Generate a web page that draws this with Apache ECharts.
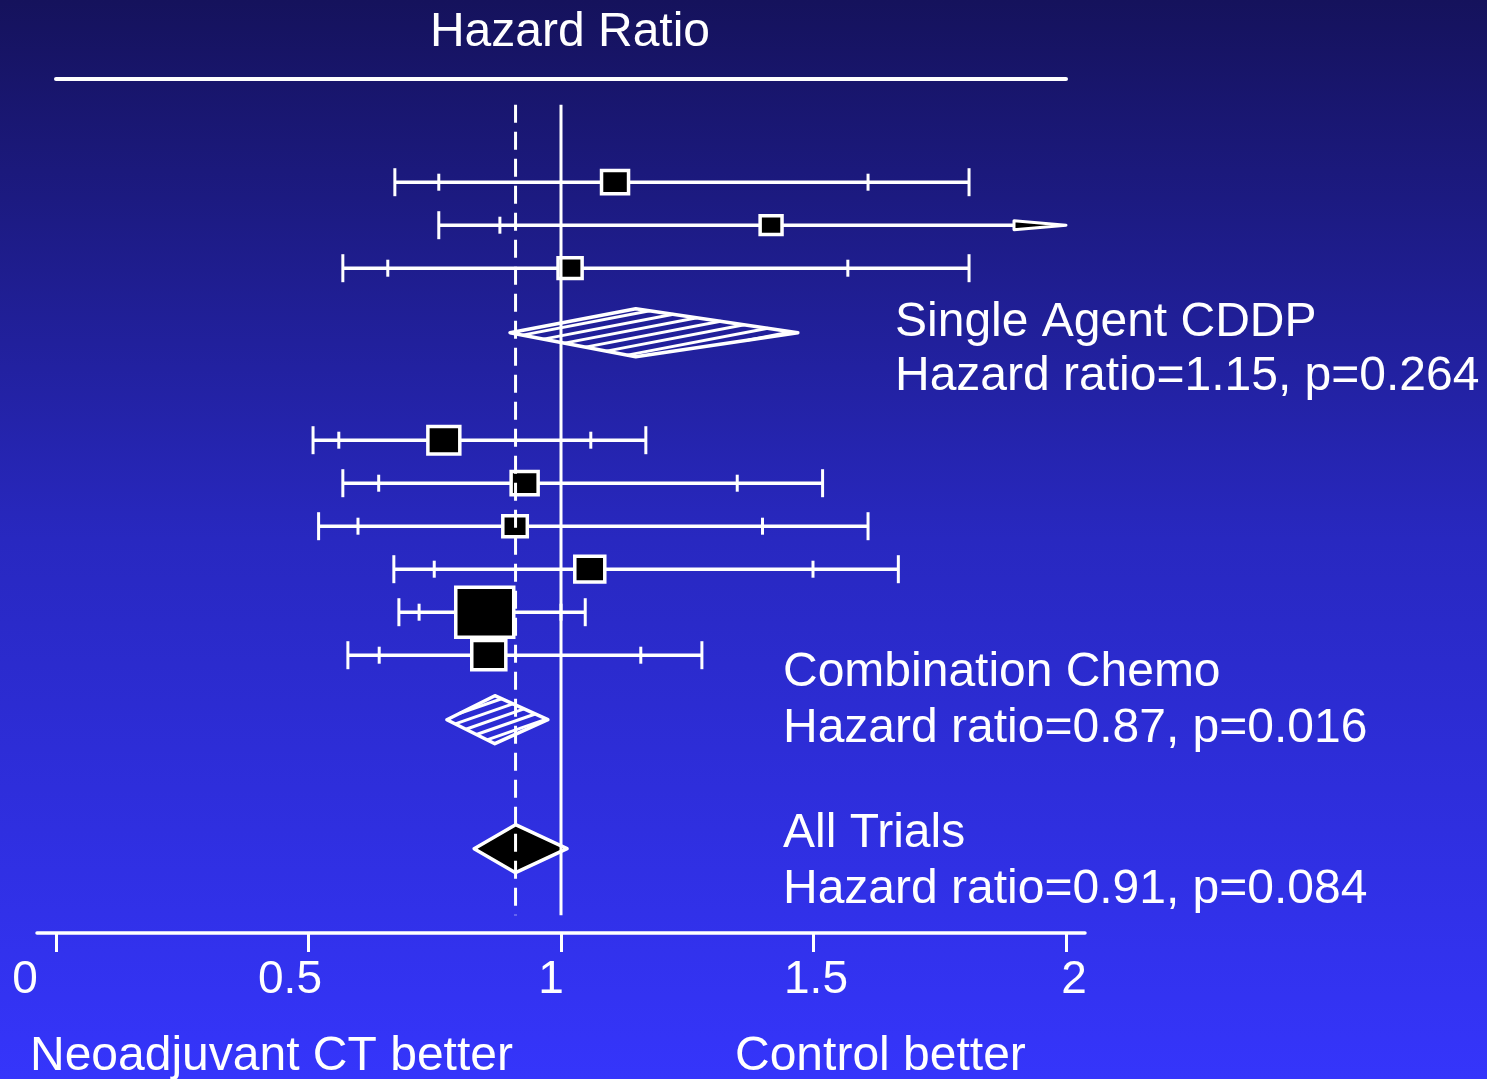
<!DOCTYPE html>
<html>
<head>
<meta charset="utf-8">
<title>Hazard Ratio</title>
<script src="https://cdn.jsdelivr.net/npm/echarts@6/dist/echarts.min.js"></script>
<style>
  html, body { margin: 0; padding: 0; background: #2424b4; }
  #chart { width: 1487px; height: 1079px; }
</style>
</head>
<body>
<div id="chart"></div>
<script>
// individual trials, top to bottom (row = vertical slot)
const trialRows = [3, 4, 5, 9, 10, 11, 12, 13, 14];
const trialHr = [1.107, 1.416, 1.018, 0.768, 0.928, 0.909, 1.057, 0.849, 0.857];
const trialLo95 = [0.758, 0.879, 0.657, 0.56, 0.639, 0.598, 0.749, 0.719, 0.64];
const trialHi95 = [1.608, 2.28, 1.568, 1.059, 1.349, 1.399, 1.499, 1.0, 1.158];
const trialLo99 = [0.671, 0.758, 0.568, 0.509, 0.568, 0.52, 0.669, 0.679, 0.578];
const trialHi99 = [1.808, 2.65, 1.808, 1.168, 1.518, 1.608, 1.668, 1.048, 1.279];
const trialWeight = [7.3, 4.8, 5.8, 10.2, 7.3, 6.0, 9.0, 33.6, 11.6];

// pooled estimates
const pooledRows = [6.5, 15.5, 18.5];
const pooledLo = [0.899, 0.774, 0.828];
const pooledHr = [1.148, 0.869, 0.91];
const pooledHi = [1.469, 0.974, 1.012];
const pooledKind = ["subgroup", "subgroup", "overall"];
const pooledNames = ["Single Agent CDDP", "Combination Chemo", "All Trials"];
const pooledStats = [
  "Hazard ratio=1.15, p=0.264",
  "Hazard ratio=0.87, p=0.016",
  "Hazard ratio=0.91, p=0.084"
];

const xTicks = [0, 0.5, 1, 1.5, 2];
const noEffect = 1;
const overallHr = 0.91;
const refSpan = [1.2, 20.05];

const X_MIN = 0;
const X_MAX = 2;
const FONT = '"Liberation Sans", Arial, sans-serif';
const WHITE = "#ffffff";
const ARROW_LEN = 52;

function hatchLines(pts, slope, gap) {
  const cs = pts.map(p => p[1] - slope * p[0]);
  const cMin = Math.min(...cs);
  const cMax = Math.max(...cs);
  const segs = [];
  for (let c = cMin + gap * 0.6; c < cMax; c += gap) {
    const xs = [];
    for (let i = 0; i < pts.length; i++) {
      const [x1, y1] = pts[i];
      const [x2, y2] = pts[(i + 1) % pts.length];
      const f1 = y1 - slope * x1 - c;
      const f2 = y2 - slope * x2 - c;
      if (f1 === f2) continue;
      if ((f1 <= 0 && f2 >= 0) || (f1 >= 0 && f2 <= 0)) {
        const t = f1 / (f1 - f2);
        xs.push(x1 + t * (x2 - x1));
      }
    }
    if (xs.length >= 2) {
      const a = Math.min(...xs);
      const b = Math.max(...xs);
      segs.push({
        type: "line",
        shape: { x1: a, y1: slope * a + c, x2: b, y2: slope * b + c },
        style: { stroke: WHITE, lineWidth: 3 }
      });
    }
  }
  return segs;
}

function renderTrial(params, api) {
  const row = api.value(0);
  const hr = api.value(1);
  const lo95 = api.value(2);
  const hi95 = api.value(3);
  const lo99 = api.value(4);
  const hi99 = api.value(5);
  const weight = api.value(6);
  const px = v => api.coord([Math.min(v, X_MAX), row])[0];
  const y = api.coord([hr, row])[1];
  const clipped = hi99 > X_MAX;
  const xEnd = clipped ? px(X_MAX) - ARROW_LEN : px(hi99);
  const lineStyle = { stroke: WHITE, lineWidth: 3.5 };
  const children = [
    { type: "line", shape: { x1: px(lo99), y1: y, x2: xEnd, y2: y }, style: lineStyle }
  ];
  const cap = (x, h) => ({
    type: "line",
    shape: { x1: x, y1: y - h, x2: x, y2: y + h },
    style: { stroke: WHITE, lineWidth: 3 }
  });
  children.push(cap(px(lo99), 14));
  children.push(cap(px(lo95), 8.5));
  if (hi95 <= X_MAX) children.push(cap(px(hi95), 8.5));
  if (!clipped) {
    children.push(cap(px(hi99), 14));
  } else {
    children.push({
      type: "polygon",
      shape: { points: [[xEnd, y - 4.5], [px(X_MAX), y], [xEnd, y + 4.5]] },
      style: { fill: "#000000", stroke: WHITE, lineWidth: 3, lineJoin: "round" }
    });
  }
  const w = 10 * Math.sqrt(weight);
  const h = w * 0.86;
  const cx = px(hr);
  children.push({
    type: "rect",
    shape: { x: cx - w / 2, y: y - h / 2, width: w, height: h },
    style: { fill: "#000000", stroke: WHITE, lineWidth: 3.5 }
  });
  return { type: "group", children };
}

function renderPooled(params, api) {
  const row = api.value(0);
  const lo = api.coord([api.value(1), row]);
  const mid = api.coord([api.value(2), row]);
  const hi = api.coord([api.value(3), row]);
  const kind = pooledKind[params.dataIndex];
  const half = 24;
  const pts = [
    [lo[0], lo[1]],
    [mid[0], mid[1] - half],
    [hi[0], hi[1]],
    [mid[0], mid[1] + half]
  ];
  if (kind === "overall") {
    return {
      type: "polygon",
      shape: { points: pts },
      style: { fill: "#000000", stroke: WHITE, lineWidth: 3.5, lineJoin: "round" }
    };
  }
  const edgeSlope = (pts[1][1] - pts[0][1]) / (pts[1][0] - pts[0][0]);
  const slope = Math.max(edgeSlope, -0.35);
  const children = hatchLines(pts, slope, params.dataIndex === 0 ? 8 : 9);
  children.push({
    type: "polygon",
    shape: { points: pts },
    style: { fill: "none", stroke: WHITE, lineWidth: 3.5, lineJoin: "round" }
  });
  return { type: "group", children };
}

const labelShift = [-31, -18.5, -10, 2.5, 8];
const tickRich = {};
xTicks.forEach((t, i) => {
  const s = labelShift[i];
  tickRich["t" + i] = {
    color: WHITE,
    fontSize: 46,
    fontFamily: FONT,
    padding: s < 0 ? [0, -2 * s, 0, 0] : [0, 0, 0, 2 * s]
  };
});

const chart = echarts.init(document.getElementById("chart"));

const textEl = (text, x, y, align) => ({
  type: "text",
  x,
  y,
  silent: true,
  style: {
    text,
    fill: WHITE,
    font: "48px " + FONT,
    align: align || "left",
    verticalAlign: "middle"
  }
});

const graphic = [
  textEl("Hazard Ratio", 570, 32.5, "center"),
  textEl(pooledNames[0], 895, 322.5),
  textEl(pooledStats[0], 895, 377),
  textEl(pooledNames[1], 783, 673),
  textEl(pooledStats[1], 783, 728.5),
  textEl(pooledNames[2], 783, 834),
  textEl(pooledStats[2], 783, 889.5),
  textEl("Neoadjuvant CT better", 30, 1057),
  textEl("Control better", 735, 1057)
];

chart.setOption({
  animation: false,
  backgroundColor: {
    type: "linear",
    x: 0, y: 0, x2: 0, y2: 1,
    colorStops: [
      { offset: 0, color: "#15125c" },
      { offset: 0.5, color: "#2828c0" },
      { offset: 1, color: "#3535fb" }
    ]
  },
  grid: [
    { left: 56, top: 79, width: 1010, height: 842.8 },
    { left: 37, top: 932, width: 1048, height: 1 }
  ],
  xAxis: [
    {
      type: "value",
      gridIndex: 0,
      position: "top",
      min: X_MIN,
      max: X_MAX,
      axisLine: { show: true, onZero: false, lineStyle: { color: WHITE, width: 4 } },
      axisTick: { show: false },
      axisLabel: { show: false },
      splitLine: { show: false }
    },
    {
      type: "value",
      gridIndex: 1,
      position: "bottom",
      min: X_MIN - 19 / 505,
      max: X_MAX + 19 / 505,
      axisLine: { show: true, onZero: false, lineStyle: { color: WHITE, width: 3.5 } },
      axisTick: {
        show: true,
        customValues: xTicks,
        length: 19,
        lineStyle: { color: WHITE, width: 3 }
      },
      axisLabel: {
        show: true,
        customValues: xTicks,
        margin: 24,
        formatter: v => {
          const i = xTicks.indexOf(v);
          return "{t" + i + "|" + v + "}";
        },
        rich: tickRich
      },
      splitLine: { show: false }
    }
  ],
  yAxis: [
    {
      type: "value",
      gridIndex: 0,
      inverse: true,
      min: 0.6,
      max: 20.2,
      show: false
    },
    {
      type: "value",
      gridIndex: 1,
      min: 0,
      max: 1,
      show: false
    }
  ],
  series: [
    {
      type: "line",
      xAxisIndex: 0,
      yAxisIndex: 0,
      symbol: "none",
      silent: true,
      lineStyle: { color: WHITE, width: 3 },
      data: [[noEffect, refSpan[0]], [noEffect, refSpan[1]]]
    },
    {
      type: "line",
      xAxisIndex: 0,
      yAxisIndex: 0,
      symbol: "none",
      silent: true,
      lineStyle: { color: WHITE, width: 3, type: [18, 9] },
      data: [[overallHr, refSpan[0]], [overallHr, refSpan[1]]]
    },
    {
      type: "custom",
      xAxisIndex: 0,
      yAxisIndex: 0,
      silent: true,
      renderItem: renderTrial,
      encode: { x: [1, 2, 3, 4, 5], y: 0 },
      data: trialRows.map((r, i) => [
        r, trialHr[i], trialLo95[i], trialHi95[i], trialLo99[i], trialHi99[i], trialWeight[i]
      ])
    },
    {
      type: "custom",
      xAxisIndex: 0,
      yAxisIndex: 0,
      silent: true,
      renderItem: renderPooled,
      encode: { x: [1, 2, 3], y: 0 },
      data: pooledRows.map((r, i) => [r, pooledLo[i], pooledHr[i], pooledHi[i]])
    }
  ],
  graphic
});
</script>
</body>
</html>
